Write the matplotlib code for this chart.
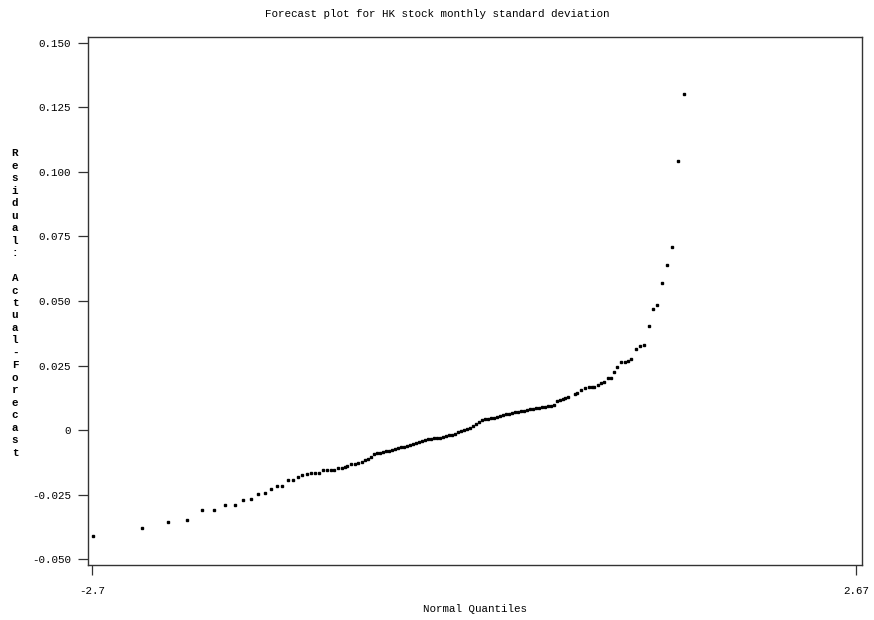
import matplotlib
matplotlib.use("Agg")
from matplotlib import pyplot as plt

# normal quantiles (x) and residuals actual-forecast (y)
quantiles = [
    -2.691, -2.351, -2.168, -2.030, -1.927, -1.840, -1.763, -1.695, -1.637, -1.582,
    -1.535, -1.484, -1.444, -1.400, -1.364, -1.322, -1.289, -1.254, -1.222, -1.191,
    -1.163, -1.133, -1.102, -1.078, -1.050, -1.022, -0.997, -0.971, -0.945, -0.922,
    -0.906, -0.882, -0.851, -0.828, -0.802, -0.779, -0.758,
    -0.737, -0.716, -0.695, -0.674, -0.653, -0.632, -0.611, -0.590, -0.569, -0.548,
    -0.527, -0.506, -0.485, -0.464, -0.443, -0.422, -0.401, -0.380, -0.359, -0.338,
    -0.317, -0.296, -0.275, -0.254, -0.233, -0.212, -0.191, -0.170, -0.149, -0.128,
    -0.107, -0.086, -0.065, -0.044, -0.023, -0.002, 0.019, 0.040, 0.061, 0.082,
    0.103, 0.124, 0.145, 0.166, 0.187, 0.208, 0.229, 0.250, 0.271, 0.292,
    0.313, 0.334, 0.355, 0.376, 0.397, 0.418, 0.439, 0.460, 0.481, 0.502,
    0.523, 0.544, 0.565, 0.586, 0.607, 0.628, 0.649,
    0.695, 0.711, 0.737, 0.765, 0.793, 0.815, 0.831, 0.855, 0.878, 0.901,
    0.925, 0.948, 0.971, 0.992, 1.016, 1.043, 1.068, 1.091, 1.122, 1.152,
    1.182, 1.212, 1.243, 1.273, 1.304, 1.342, 1.379, 1.417, 1.463,
]
residuals = [
    -0.0412, -0.0379, -0.0358, -0.0349, -0.0311, -0.0311, -0.0291, -0.0291, -0.0271, -0.0269,
    -0.0248, -0.0244, -0.0228, -0.0216, -0.0216, -0.0195, -0.0194, -0.0182, -0.0176, -0.0171,
    -0.0168, -0.0168, -0.0168, -0.0156, -0.0156, -0.0156, -0.0155, -0.0148, -0.0147, -0.0145,
    -0.0141, -0.0131, -0.0131, -0.0128, -0.0123, -0.0116, -0.0111,
    -0.0104, -0.0093, -0.0090, -0.0088, -0.0085, -0.0083, -0.0080, -0.0076, -0.0073, -0.0070,
    -0.0067, -0.0064, -0.0061, -0.0058, -0.0054, -0.0050, -0.0046, -0.0042, -0.0039, -0.0035,
    -0.0033, -0.0032, -0.0031, -0.0030, -0.0027, -0.0024, -0.0021, -0.0018, -0.0014, -0.0009,
    -0.0005, -0.0001, 0.0003, 0.0009, 0.0016, 0.0025, 0.0033, 0.0038, 0.0041, 0.0044,
    0.0046, 0.0048, 0.0051, 0.0054, 0.0057, 0.0061, 0.0064, 0.0067, 0.0069, 0.0070,
    0.0072, 0.0074, 0.0077, 0.0080, 0.0082, 0.0084, 0.0086, 0.0088, 0.0090, 0.0093,
    0.0095, 0.0098, 0.0112, 0.0117, 0.0120, 0.0124, 0.0128,
    0.0140, 0.0142, 0.0155, 0.0162, 0.0166, 0.0166, 0.0167, 0.0174, 0.0183, 0.0186,
    0.0200, 0.0200, 0.0226, 0.0243, 0.0264, 0.0264, 0.0267, 0.0276, 0.0313, 0.0326,
    0.0331, 0.0402, 0.0468, 0.0486, 0.0570, 0.0640, 0.0708, 0.1044, 0.1302,
]

yTicks = [0.150, 0.125, 0.100, 0.075, 0.050, 0.025, 0, -0.025, -0.050]
yTickLabels = ["0.150", "0.125", "0.100", "0.075", "0.050", "0.025", "0", "-0.025", "-0.050"]
xTicks = [-2.7, 2.67]
xTickLabels = ["-2.7", "2.67"]

plt.rcParams["font.family"] = ["Liberation Mono", "DejaVu Sans Mono"]
plt.rcParams["font.size"] = 7.8

fig = plt.figure(figsize=(8.74, 6.2), dpi=100)
ax = fig.add_axes([88 / 874, 1 - 565 / 620, (862 - 88) / 874, (565 - 37) / 620])

# pontos do grafico
ax.plot(quantiles, residuals, linestyle="none", marker="s", markersize=1.6,
        color="black")

ax.set_xlim(-2.728, 2.712)
ax.set_ylim(-0.0523, 0.1523)
ax.set_xticks(xTicks)
ax.set_xticklabels(xTickLabels)
ax.set_yticks(yTicks)
ax.set_yticklabels(yTickLabels)
ax.tick_params(direction="out", length=7, width=0.9, color="#333333", pad=8)
ax.tick_params(axis="y", pad=5)
for spine in ax.spines.values():
    spine.set_color("#333333")
    spine.set_linewidth(1.0)

fig.text(0.5, 1 - 14 / 620, "Forecast plot for HK stock monthly standard deviation",
         ha="center", va="center")
fig.text(475 / 874, 1 - 609 / 620, "Normal Quantiles", ha="center", va="center")

# rotulo vertical, uma letra por linha
yLabel = "\n".join(list("Residual: Actual-Forecast"))
fig.text(15 / 874, 1 - 303 / 620, yLabel, ha="center", va="center",
         linespacing=1.31, fontweight="bold")

fig.savefig("out.png", dpi=100)
